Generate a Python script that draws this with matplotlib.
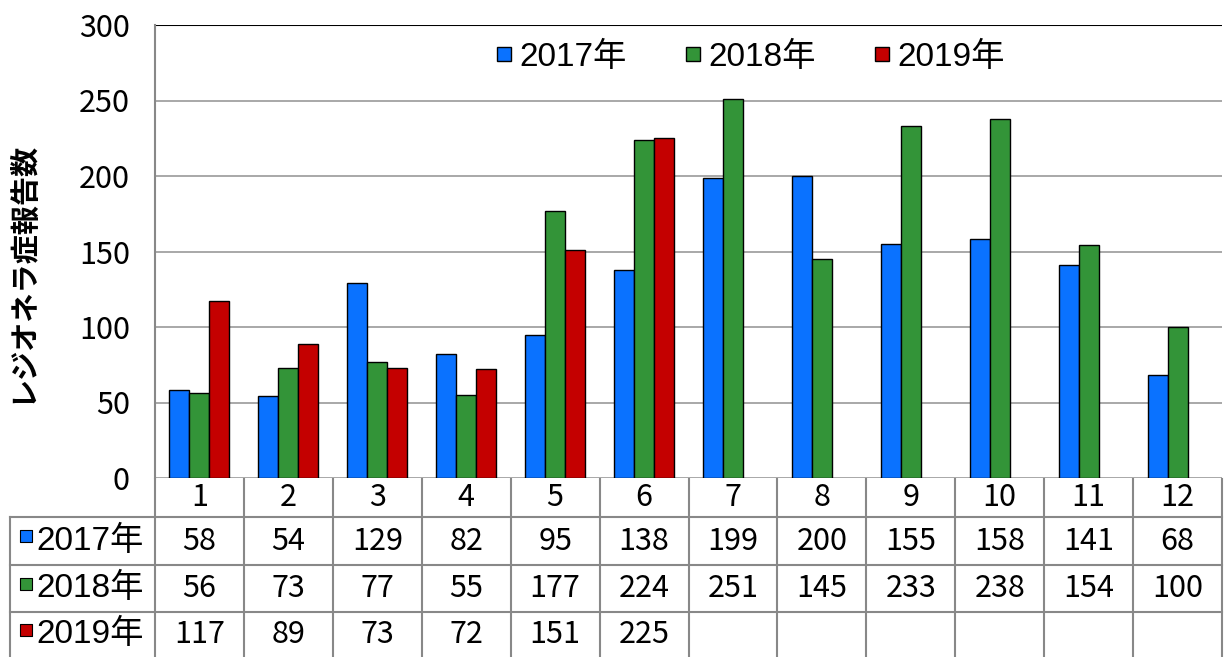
import matplotlib
matplotlib.use("Agg")
import matplotlib.pyplot as plt
from matplotlib.lines import Line2D
import numpy as np

plt.rcParams['font.family'] = ['Liberation Sans Narrow', 'Noto Sans CJK JP', 'DejaVu Sans']

# data
months = ['1', '2', '3', '4', '5', '6', '7', '8', '9', '10', '11', '12']
years = ['2017年', '2018年', '2019年']
v2017 = [58, 54, 129, 82, 95, 138, 199, 200, 155, 158, 141, 68]
v2018 = [56, 73, 77, 55, 177, 224, 251, 145, 233, 238, 154, 100]
v2019 = [117, 89, 73, 72, 151, 225]
colors = ['#0a72ff', '#339438', '#c40000']
series = [v2017, v2018, v2019]

W, H = 1225, 657
fig = plt.figure(figsize=(W / 100, H / 100), dpi=100)

# main plot
ax = fig.add_axes([155 / W, 1 - 478 / H, (1222 - 155) / W, (478 - 25) / H])
x = np.arange(len(months))
bw = 0.225
for i, (vals, c) in enumerate(zip(series, colors)):
    xi = x[:len(vals)] + (i - 1) * bw
    ax.bar(xi, vals, bw, color=c, edgecolor='black', linewidth=1, label=years[i], zorder=3)

ax.set_xlim(-0.5, 11.5)
ax.set_ylim(0, 300)
ax.set_yticks(range(0, 301, 50))
ax.tick_params(axis='y', labelsize=22, length=0, pad=18)
ax.set_xticks([])
ax.grid(axis='y', color='#999999', linewidth=1.2, zorder=0)
for s in ['top', 'right', 'bottom']:
    ax.spines[s].set_visible(False)
ax.spines['left'].set_color('#888888')
ax.spines['left'].set_linewidth(1.5)
ax.axhline(300, color='black', linewidth=1.5, zorder=2)
ax.set_ylabel('レジオネラ症報告数', fontsize=21, fontweight='bold',
              family=['Noto Sans CJK JP'])
ax.yaxis.set_label_coords(-0.111, 0.455)

# legend with square markers
handles = [Line2D([], [], marker='s', ls='', markersize=10, markerfacecolor=c,
                  markeredgecolor='black', markeredgewidth=1) for c in colors]
leg = ax.legend(handles, years, loc='upper center', bbox_to_anchor=(0.558, 1.03), ncol=3,
                frameon=False, handlelength=0.5, handletextpad=0.2, columnspacing=1.75,
                prop={'family': ['Liberation Sans', 'Noto Sans CJK JP'], 'size': 24})

# data table below
tax = fig.add_axes([10 / W, 0, (1222 - 10) / W, (657 - 479) / H])
cw = (1222 - 155) / 12.0
lab_w = 155 - 10
tax.set_xlim(0, 1212)
tax.set_ylim(178, 0)
tax.axis('off')
row_y = [0, 38, 86, 133, 178]
gc = '#888888'
# vertical lines
for k in range(13):
    xx = lab_w + k * cw
    tax.plot([xx, xx], [0, 178], color=gc, lw=1.5, clip_on=False)
tax.plot([0, 0], [38, 178], color=gc, lw=1.5, clip_on=False)
# horizontal lines
for yy in row_y[1:4]:
    tax.plot([0, 1212], [yy, yy], color=gc, lw=1.5, clip_on=False)

for k, m in enumerate(months):
    tax.text(lab_w + (k + 0.5) * cw, 19, m, ha='center', va='center', fontsize=22)
for r, (vals, c) in enumerate(zip(series, colors)):
    yc = (row_y[r + 1] + row_y[r + 2]) / 2
    tax.scatter([16], [yc - 5], marker='s', s=80, color=c, edgecolor='black', linewidth=0.8, clip_on=False)
    tax.text(26, yc, years[r], ha='left', va='center', fontsize=24,
             family=['Liberation Sans', 'Noto Sans CJK JP'])
    for k, v in enumerate(vals):
        tax.text(lab_w + (k + 0.5) * cw, yc, str(v), ha='center', va='center', fontsize=22)

fig.savefig('out.png', dpi=100)
